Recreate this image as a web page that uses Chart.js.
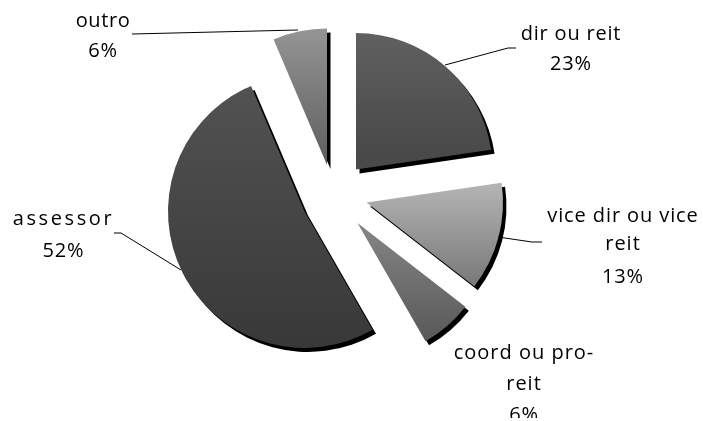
<!DOCTYPE html>
<html><head><meta charset="utf-8">
<style>html,body{margin:0;padding:0;background:#fff}canvas{display:block}</style>
<script src="https://cdn.jsdelivr.net/npm/chart.js@4"></script>
</head><body>
<canvas id="c" width="703" height="418"></canvas>
<script>
const categories = ["dir ou reit","vice dir ou vice reit","coord ou pro-reit","assessor","outro"];
const seriesValues = [22.7,12.8,6.2,51.9,6.4];
const percentLabels = ["23%","13%","6%","52%","6%"];

const apexes = [[356,169.5],[366.5,202.5],[357.5,223],[304.5,211.5],[327,165]];
const gradients = [["#606060","#494949",34,153],["#b4b4b4","#767676",184,290],["#838383","#585858",230,342],["#525252","#383838",87,350],["#959595","#5e5e5e",27,165]];
const labelBlocks = [
 {lines:["dir ou reit","23%"],x:571,y:[40,70],sp:[0.8,0.8]},
 {lines:["vice dir ou vice","reit","13%"],x:623,y:[222,250,283],sp:[0.9,1,0.8]},
 {lines:["coord ou pro-","reit","6%"],x:524,y:[359,390,421],sp:[1,1,0.8]},
 {lines:["assessor","52%"],x:63.5,y:[225,257],sp:[2.6,0.8]},
 {lines:["outro","6%"],x:103,y:[27,57],sp:[0.6,0.8]}
];
const leaders = [
 [[445,65],[508,48],[516,48]],
 [[498,237],[532,242],[542,242]],
 [[114,233],[121,233],[181,270]],
 [[132,34],[298,30]]
];

const explode = {
  id:'explode',
  afterDatasetsUpdate(chart){
    chart.getDatasetMeta(0).data.forEach((a,i)=>{a.x=apexes[i][0];a.y=apexes[i][1];});
  },
  beforeDatasetsDraw(chart){
    const c=chart.ctx;c.save();c.shadowColor='#000';c.shadowBlur=0;c.shadowOffsetX=3.5;c.shadowOffsetY=4;
  },
  afterDatasetsDraw(chart){
    const c=chart.ctx;c.restore();
    c.strokeStyle='#000';c.lineWidth=1;
    leaders.forEach(l=>{c.beginPath();l.forEach((p,i)=>i?c.lineTo(p[0],p[1]):c.moveTo(p[0],p[1]));c.stroke();});
    c.fillStyle='#000';c.font='20px "Open Sans"';c.textAlign='center';c.textBaseline='alphabetic';
    labelBlocks.forEach(b=>{b.lines.forEach((t,i)=>{c.letterSpacing=b.sp[i]+'px';c.fillText(t,b.x,b.y[i]);});});
    c.letterSpacing='0px';
  }
};
const ctx=document.getElementById('c').getContext('2d');
const fills=gradients.map(g=>{const f=ctx.createLinearGradient(0,g[2],0,g[3]);f.addColorStop(0,g[0]);f.addColorStop(1,g[1]);return f;});
new Chart(ctx,{type:'pie',
 data:{labels:categories,datasets:[{data:seriesValues,backgroundColor:fills,borderWidth:0,radius:136.5}]},
 options:{responsive:false,animation:false,layout:{padding:0},plugins:{legend:{display:false},tooltip:{enabled:false}}},
 plugins:[explode]});
</script></body></html>
